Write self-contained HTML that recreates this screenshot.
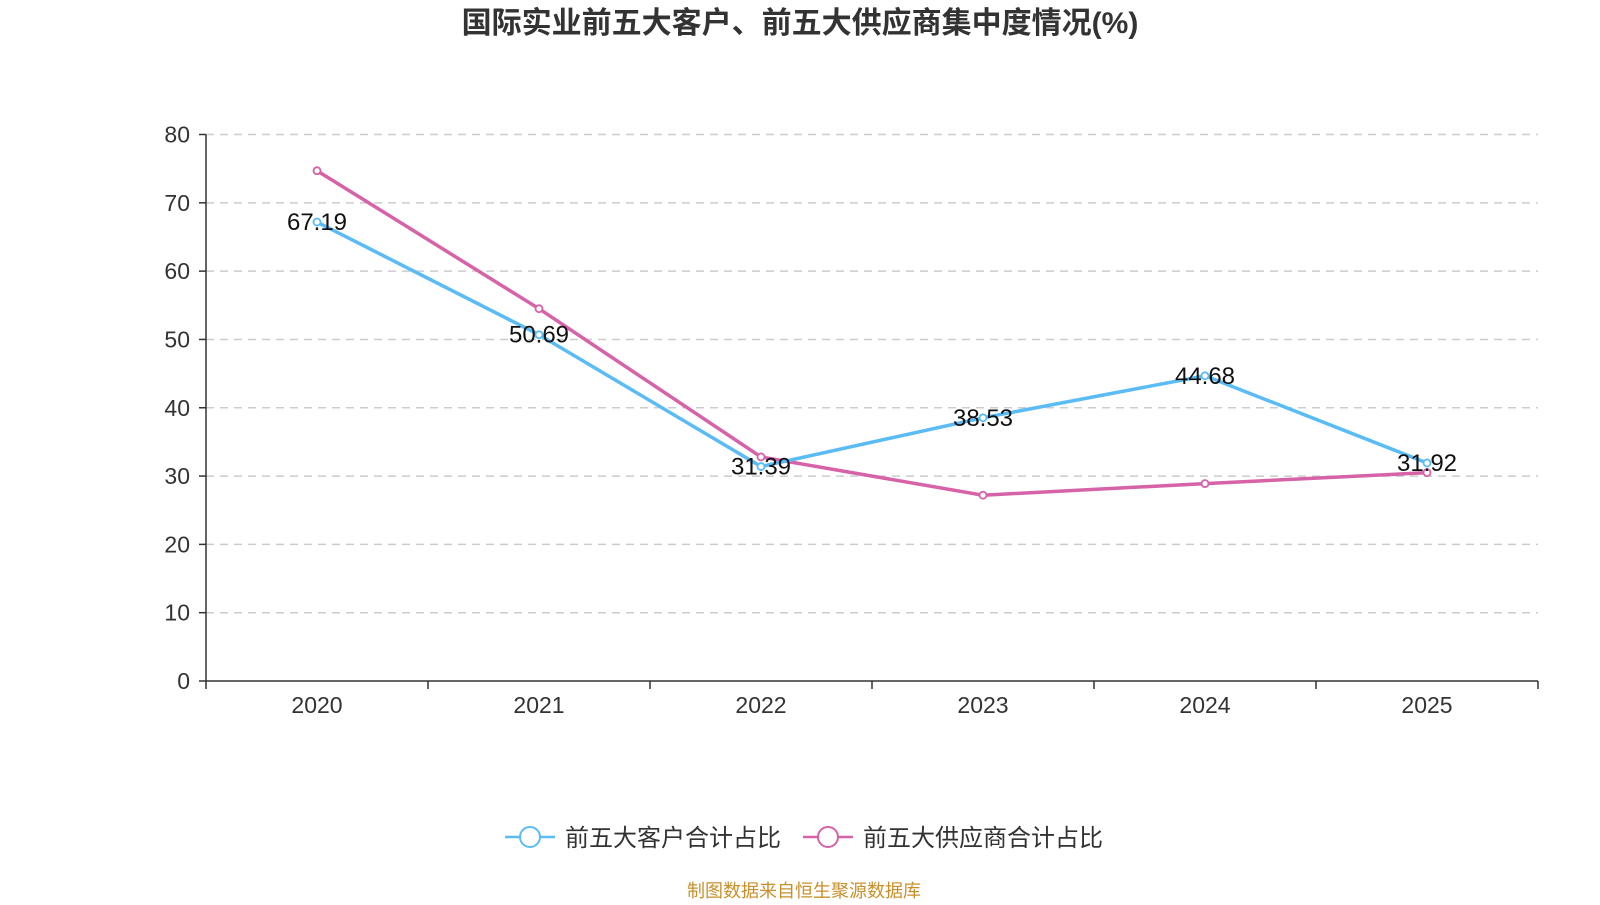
<!DOCTYPE html>
<html><head><meta charset="utf-8"><style>
body{margin:0;background:#fff;font-family:"Liberation Sans","Noto Sans CJK SC",sans-serif}
</style></head><body>
<svg width="1600" height="900" xmlns="http://www.w3.org/2000/svg" font-family="Liberation Sans, Noto Sans CJK SC, sans-serif">
<text x="800" y="33" text-anchor="middle" font-size="30" font-weight="bold" fill="#333">国际实业前五大客户、前五大供应商集中度情况(%)</text>
<g id="grid"></g><g id="axes"></g><g id="series"></g>
<g>
<g><line x1="505" y1="837" x2="555" y2="837" stroke="#5bbcf5" stroke-width="2.5"/><circle cx="530" cy="837" r="10" fill="#fff" stroke="#5bbcf5" stroke-width="2"/><text x="565" y="846" font-size="24" fill="#333">前五大客户合计占比</text></g>
<g><line x1="803" y1="837" x2="853" y2="837" stroke="#d662a8" stroke-width="2.5"/><circle cx="828" cy="837" r="10" fill="#fff" stroke="#d662a8" stroke-width="2"/><text x="863" y="846" font-size="24" fill="#333">前五大供应商合计占比</text></g>
</g>
<text x="804" y="897" text-anchor="middle" font-size="18" fill="#c8902a">制图数据来自恒生聚源数据库</text>
</svg>
<script>
const categories=["2020","2021","2022","2023","2024","2025"];
const customers=[67.19,50.69,31.39,38.53,44.68,31.92];
const suppliers=[74.7,54.5,32.8,27.2,28.9,30.5];
const yTicks=[0,10,20,30,40,50,60,70,80];
const NS="http://www.w3.org/2000/svg";
const L=206,R=1538,T=134.5,B=681;
const bw=(R-L)/categories.length;
const x=i=>L+bw*(i+0.5);
const y=v=>B-(v/80)*(B-T);
function mk(tag,attrs,parent,txt){const e=document.createElementNS(NS,tag);for(const k in attrs)e.setAttribute(k,attrs[k]);if(txt!==undefined)e.textContent=txt;document.getElementById(parent).appendChild(e);return e;}
yTicks.forEach(t=>{
 if(t>0){const g=mk('line',{x1:L,x2:R,y1:y(t),y2:y(t),stroke:'#ccc','stroke-width':1.5,'stroke-dasharray':'8,6'},'grid');
 
 }
 mk('line',{x1:L-7,x2:L,y1:y(t),y2:y(t),stroke:'#333','stroke-width':1.5},'axes');
 const lb=mk('text',{x:L-16,y:y(t)+8,'text-anchor':'end','font-size':23,fill:'#333'},'axes',t);
 
 
});
mk('line',{x1:L,x2:L,y1:T,y2:B,stroke:'#333','stroke-width':1.5},'axes');
mk('line',{x1:L,x2:R,y1:B,y2:B,stroke:'#333','stroke-width':1.5},'axes');
for(let i=0;i<=categories.length;i++)mk('line',{x1:L+bw*i,x2:L+bw*i,y1:B,y2:B+8,stroke:'#333','stroke-width':1.5},'axes');
categories.forEach((c,i)=>{const t=mk('text',{x:x(i),y:B+32,'text-anchor':'middle','font-size':23,fill:'#333'},'axes',c);
 
 });
function series(vals,color,name,labels){
 const p=mk('polyline',{points:vals.map((v,i)=>x(i)+','+y(v)).join(' '),fill:'none',stroke:color,'stroke-width':3.5},'series');
 
 
 vals.forEach((v,i)=>{const c=mk('circle',{cx:x(i),cy:y(v),r:3.5,fill:'#fff',stroke:color,'stroke-width':1.8},'series');
  
  
  if(labels){const t=mk('text',{x:x(i),y:y(v)+8,'text-anchor':'middle','font-size':24,fill:'#111'},'series',v.toFixed(2));
   
   }
 });
}
series(suppliers,'#d662a8','suppliers',false);
series(customers,'#5bbcf5','customers',true);
</script>
</body></html>
